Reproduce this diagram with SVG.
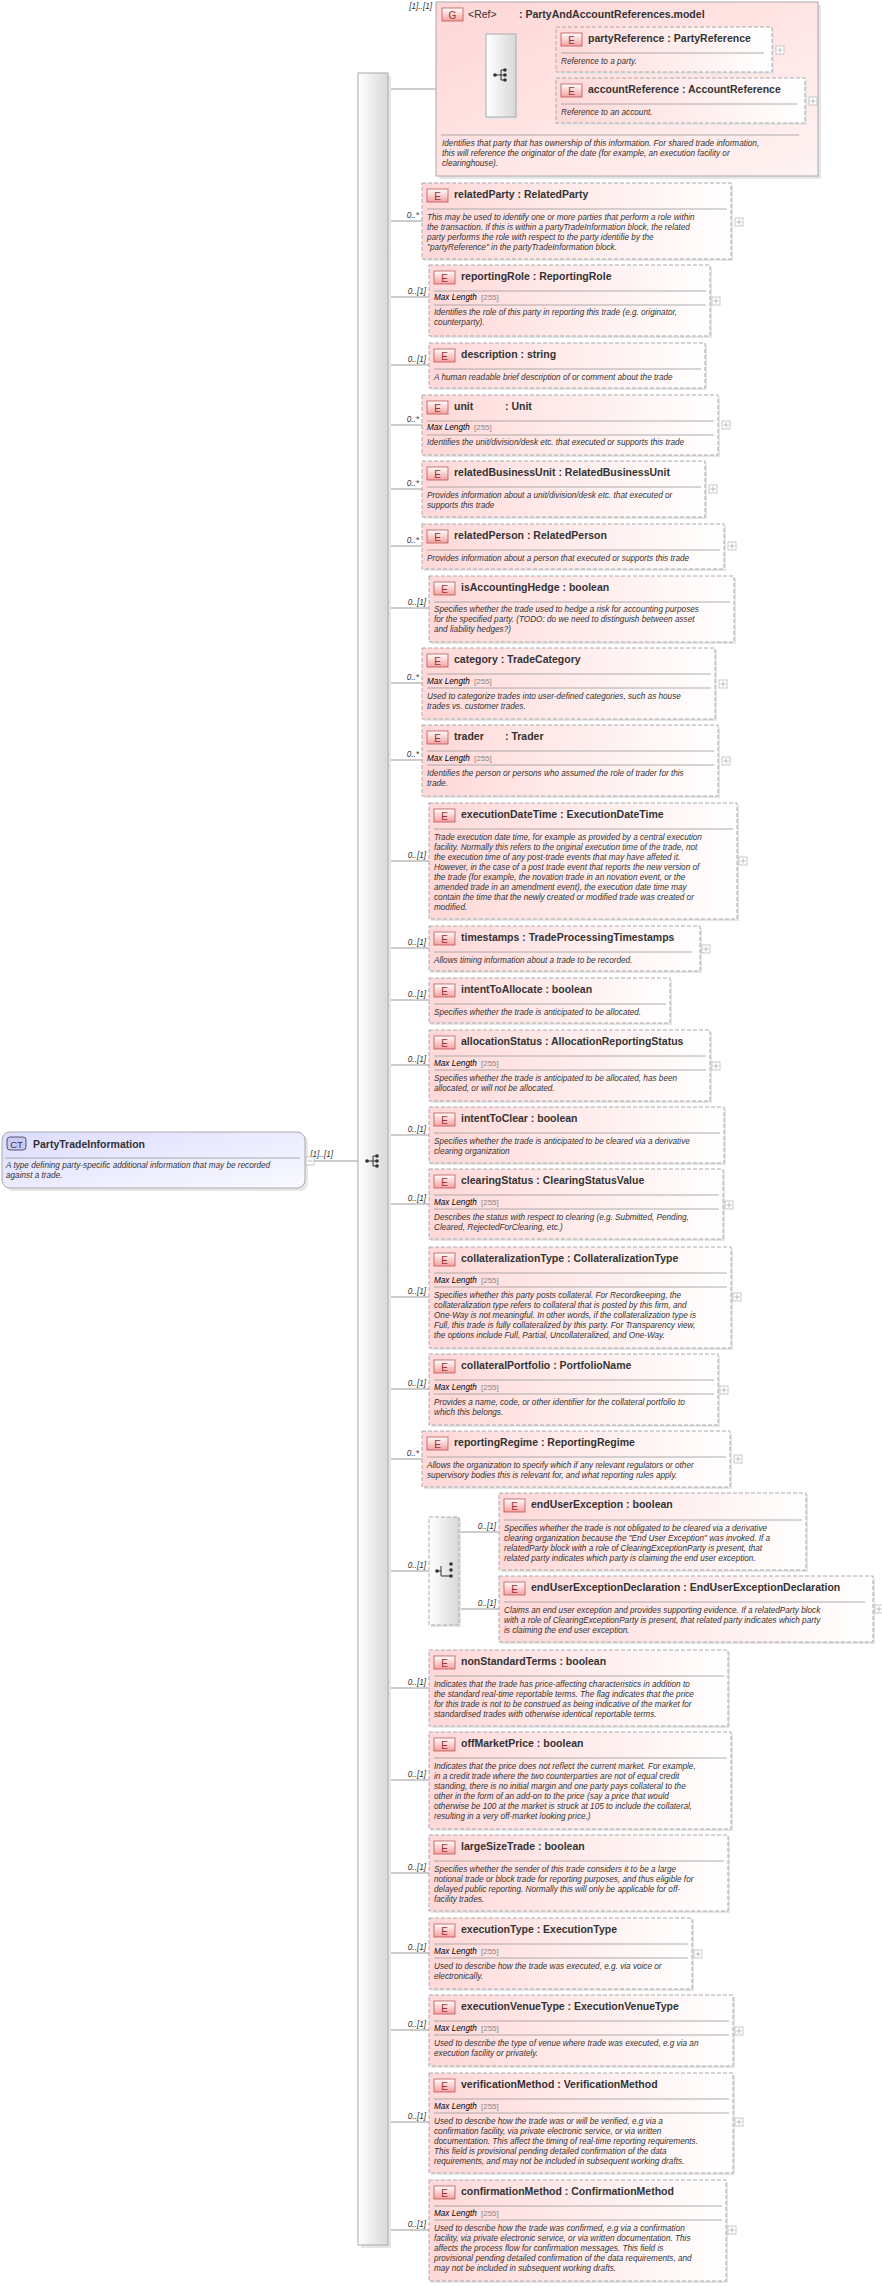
<svg xmlns="http://www.w3.org/2000/svg" width="882" height="2287" viewBox="0 0 882 2287">
<style>
text{font-family:"Liberation Sans",Arial,sans-serif;fill:#333}
.h{font-size:10.5px;font-weight:bold}
.d{font-size:8.2px;font-style:italic}
.m{font-size:8.2px;font-style:italic;fill:#000}
.v{font-size:8px;fill:#888}
.c{font-size:8.2px;font-style:italic;fill:#222}
.b{font-size:10px;fill:#933}
.box{fill:url(#pk);stroke:#aaa;stroke-dasharray:4,2}
.sh{fill:#e6e6e6}
.bd{fill:url(#bg);stroke:#b55;stroke-width:0.8}
.sep{stroke:#999;stroke-width:0.8}
.pl{fill:#fff;stroke:#bbb;stroke-width:0.8}
.cn{stroke:#999;stroke-width:1;fill:none}
</style>
<defs>
<linearGradient id="pk" x1="0" x2="1" y1="0" y2="0"><stop offset="0" stop-color="#ffd8d8"/><stop offset="1" stop-color="#fff"/></linearGradient>
<linearGradient id="gp" x1="0" x2="1" y1="0" y2="1"><stop offset="0" stop-color="#ffd6d6"/><stop offset="1" stop-color="#fff3f3"/></linearGradient>
<linearGradient id="bg" x1="0" x2="0" y1="0" y2="1"><stop offset="0" stop-color="#fff"/><stop offset="1" stop-color="#f5a0a0"/></linearGradient>
<linearGradient id="ct" x1="0" x2="1" y1="0" y2="1"><stop offset="0" stop-color="#dcdcff"/><stop offset="1" stop-color="#fafaff"/></linearGradient>
<linearGradient id="sq" x1="0" x2="1"><stop offset="0" stop-color="#fff"/><stop offset="1" stop-color="#d8d8d8"/></linearGradient>
<g id="seqi"><circle cx="-6" cy="0" r="1.8" fill="#333"/><path d="M-6 0H0M0 -5V5M0 -5H4M0 0H4M0 5H4" stroke="#333" fill="none"/><circle cx="4" cy="-5" r="1.8" fill="#333"/><circle cx="4" cy="0" r="1.8" fill="#333"/><circle cx="4" cy="5" r="1.8" fill="#333"/></g>
<g id="plus"><rect x="0" y="0" width="8" height="8" class="pl"/><path d="M1.5 4H6.5M4 1.5V6.5" stroke="#bbb"/></g>
<g id="badge"><rect x="5" y="6" width="21" height="13" class="bd"/><text x="15.5" y="16.5" text-anchor="middle" class="b">E</text></g>
</defs>

<g id="connectors">
<path class="cn" d="M305 1161H358"/>
<path class="cn" d="M388 89H436M436 75H486M516 49H556M516 100H556"/>
<path class="cn" d="M388 221H422M388 297H429M388 365H429M388 425H422M388 489H422M388 546H422M388 608H429M388 683H422M388 760H422M388 861H429M388 948H429M388 1000H429M388 1065H429M388 1135H429M388 1204H429M388 1297H429M388 1389H429M388 1459H422M388 1571H429M459 1532H499M459 1609H499M388 1688H429M388 1780H429M388 1873H429M388 1953H429M388 2030H429M388 2122H429M388 2230H429"/>
<g class="c" text-anchor="end">
<text x="333" y="1157">[1]..[1]</text>
<text x="432" y="9">[1]..[1]</text>
<text x="483" y="71">[1]..[1]</text>
<text x="553" y="46">0..[1]</text><text x="553" y="97">0..[1]</text>
<text x="419" y="218">0..*</text><text x="426" y="294">0..[1]</text><text x="426" y="362">0..[1]</text><text x="419" y="422">0..*</text><text x="419" y="486">0..*</text><text x="419" y="543">0..*</text><text x="426" y="605">0..[1]</text><text x="419" y="680">0..*</text><text x="419" y="757">0..*</text><text x="426" y="858">0..[1]</text><text x="426" y="945">0..[1]</text><text x="426" y="997">0..[1]</text><text x="426" y="1062">0..[1]</text><text x="426" y="1132">0..[1]</text><text x="426" y="1201">0..[1]</text><text x="426" y="1294">0..[1]</text><text x="426" y="1386">0..[1]</text><text x="419" y="1456">0..*</text><text x="426" y="1568">0..[1]</text><text x="496" y="1529">0..[1]</text><text x="496" y="1606">0..[1]</text><text x="426" y="1685">0..[1]</text><text x="426" y="1777">0..[1]</text><text x="426" y="1870">0..[1]</text><text x="426" y="1950">0..[1]</text><text x="426" y="2027">0..[1]</text><text x="426" y="2119">0..[1]</text><text x="426" y="2227">0..[1]</text>
</g>
</g>

<g id="PartyTradeInformation">
<rect x="5" y="1135" width="303" height="56" rx="8" class="sh"/>
<rect x="2" y="1132" width="303" height="56" rx="8" fill="url(#ct)" stroke="#aaa"/>
<rect x="7" y="1137" width="19" height="13" rx="3" fill="#c8c8f0" stroke="#557"/>
<text x="16.5" y="1147.5" text-anchor="middle" style="font-size:9.5px;fill:#335">CT</text>
<text x="33" y="1148" class="h">PartyTradeInformation</text>
<line x1="5" y1="1158" x2="300" y2="1158" class="sep"/>
<text x="6" y="1168" class="d">A type defining party-specific additional information that may be recorded</text>
<text x="6" y="1178" class="d">against a trade.</text>
<rect x="306" y="1157" width="8" height="8" class="pl"/><path d="M307.5 1161H312.5" stroke="#bbb"/>
</g>

<g id="sequence">
<rect x="361" y="76" width="30" height="2172" class="sh"/>
<rect x="358" y="73" width="30" height="2172" fill="url(#sq)" stroke="#aaa"/>
<use href="#seqi" x="373" y="1161"/>
</g>

<g id="PartyAndAccountReferences">
<rect x="439" y="5" width="382" height="174" class="sh"/>
<rect x="436" y="2" width="382" height="174" fill="url(#gp)" stroke="#aaa"/>
<rect x="442" y="8" width="21" height="13" class="bd"/><text x="452.5" y="18.5" text-anchor="middle" class="b">G</text>
<text x="468" y="18" class="h" style="font-weight:normal">&lt;Ref&gt;</text>
<text x="519" y="18" class="h">: PartyAndAccountReferences.model</text>
<rect x="488" y="36" width="30" height="83" class="sh"/>
<rect x="486" y="34" width="30" height="83" fill="url(#sq)" stroke="#aaa"/>
<use href="#seqi" x="501" y="75"/>
<line x1="441" y1="135" x2="799" y2="135" class="sep"/>
<text x="442" y="146" class="d">Identifies that party that has ownership of this information. For shared trade information,</text>
<text x="442" y="156" class="d">this will reference the originator of the date (for example, an execution facility or</text>
<text x="442" y="166" class="d">clearinghouse).</text>
</g>
<g id="partyReference" transform="translate(556,27)">
<rect x="2" y="2" width="216" height="45" class="sh"/><rect width="216" height="45" class="box"/><use href="#badge"/>
<text x="32" y="15" class="h">partyReference : PartyReference</text>
<line x1="5" y1="26" x2="208" y2="26" class="sep"/>
<text x="5" y="37" class="d">Reference to a party.</text><use href="#plus" x="220" y="19"/>
</g>
<g id="accountReference" transform="translate(556,78)">
<rect x="2" y="2" width="249" height="45" class="sh"/><rect width="249" height="45" class="box"/><use href="#badge"/>
<text x="32" y="15" class="h">accountReference : AccountReference</text>
<line x1="5" y1="26" x2="241" y2="26" class="sep"/>
<text x="5" y="37" class="d">Reference to an account.</text><use href="#plus" x="253" y="19"/>
</g>

<g id="relatedParty" transform="translate(422,183)">
<rect x="2" y="2" width="309" height="76" class="sh"/><rect width="309" height="76" class="box"/><use href="#badge"/>
<text x="32" y="15" class="h">relatedParty : RelatedParty</text>
<line x1="5" y1="26" x2="305" y2="26" class="sep"/>
<text x="5" y="37" class="d">This may be used to identify one or more parties that perform a role within</text>
<text x="5" y="47" class="d">the transaction. If this is within a partyTradeInformation block, the related</text>
<text x="5" y="57" class="d">party performs the role with respect to the party identifie by the</text>
<text x="5" y="67" class="d">"partyReference" in the partyTradeInformation block.</text>
<use href="#plus" x="313" y="35"/>
</g>

<g id="reportingRole" transform="translate(429,265)">
<rect x="2" y="2" width="281" height="71" class="sh"/><rect width="281" height="71" class="box"/><use href="#badge"/>
<text x="32" y="15" class="h">reportingRole : ReportingRole</text>
<line x1="5" y1="26" x2="277" y2="26" class="sep"/>
<text x="5" y="35" class="m">Max Length</text><text x="52" y="35" class="v">[255]</text>
<line x1="5" y1="40" x2="277" y2="40" class="sep"/>
<text x="5" y="50" class="d">Identifies the role of this party in reporting this trade (e.g. originator,</text>
<text x="5" y="60" class="d">counterparty).</text>
<use href="#plus" x="283" y="32"/>
</g>

<g id="description" transform="translate(429,343)">
<rect x="2" y="2" width="276" height="45" class="sh"/><rect width="276" height="45" class="box"/><use href="#badge"/>
<text x="32" y="15" class="h">description : string</text>
<line x1="5" y1="26" x2="272" y2="26" class="sep"/>
<text x="5" y="37" class="d">A human readable brief description of or comment about the trade</text>
</g>

<g id="unit" transform="translate(422,395)">
<rect x="2" y="2" width="296" height="60" class="sh"/><rect width="296" height="60" class="box"/><use href="#badge"/>
<text x="32" y="15" class="h">unit</text><text x="83" y="15" class="h">: Unit</text>
<line x1="5" y1="26" x2="292" y2="26" class="sep"/>
<text x="5" y="35" class="m">Max Length</text><text x="52" y="35" class="v">[255]</text>
<line x1="5" y1="40" x2="292" y2="40" class="sep"/>
<text x="5" y="50" class="d">Identifies the unit/division/desk etc. that executed or supports this trade</text>
<use href="#plus" x="300" y="26"/>
</g>

<g id="relatedBusinessUnit" transform="translate(422,461)">
<rect x="2" y="2" width="283" height="56" class="sh"/><rect width="283" height="56" class="box"/><use href="#badge"/>
<text x="32" y="15" class="h">relatedBusinessUnit : RelatedBusinessUnit</text>
<line x1="5" y1="26" x2="279" y2="26" class="sep"/>
<text x="5" y="37" class="d">Provides information about a unit/division/desk etc. that executed or</text>
<text x="5" y="47" class="d">supports this trade</text>
<use href="#plus" x="287" y="24"/>
</g>

<g id="relatedPerson" transform="translate(422,524)">
<rect x="2" y="2" width="302" height="45" class="sh"/><rect width="302" height="45" class="box"/><use href="#badge"/>
<text x="32" y="15" class="h">relatedPerson : RelatedPerson</text>
<line x1="5" y1="26" x2="298" y2="26" class="sep"/>
<text x="5" y="37" class="d">Provides information about a person that executed or supports this trade</text>
<use href="#plus" x="306" y="18"/>
</g>

<g id="isAccountingHedge" transform="translate(429,576)">
<rect x="2" y="2" width="305" height="66" class="sh"/><rect width="305" height="66" class="box"/><use href="#badge"/>
<text x="32" y="15" class="h">isAccountingHedge : boolean</text>
<line x1="5" y1="26" x2="301" y2="26" class="sep"/>
<text x="5" y="36" class="d">Specifies whether the trade used to hedge a risk for accounting purposes</text>
<text x="5" y="46" class="d">for the specified party. (TODO: do we need to distinguish between asset</text>
<text x="5" y="56" class="d">and liability hedges?)</text>
</g>

<g id="category" transform="translate(422,648)">
<rect x="2" y="2" width="293" height="71" class="sh"/><rect width="293" height="71" class="box"/><use href="#badge"/>
<text x="32" y="15" class="h">category : TradeCategory</text>
<line x1="5" y1="26" x2="289" y2="26" class="sep"/>
<text x="5" y="36" class="m">Max Length</text><text x="52" y="36" class="v">[255]</text>
<line x1="5" y1="40" x2="289" y2="40" class="sep"/>
<text x="5" y="51" class="d">Used to categorize trades into user-defined categories, such as house</text>
<text x="5" y="61" class="d">trades vs. customer trades.</text>
<use href="#plus" x="297" y="32"/>
</g>

<g id="trader" transform="translate(422,725)">
<rect x="2" y="2" width="296" height="71" class="sh"/><rect width="296" height="71" class="box"/><use href="#badge"/>
<text x="32" y="15" class="h">trader</text><text x="83" y="15" class="h">: Trader</text>
<line x1="5" y1="26" x2="292" y2="26" class="sep"/>
<text x="5" y="36" class="m">Max Length</text><text x="52" y="36" class="v">[255]</text>
<line x1="5" y1="40" x2="292" y2="40" class="sep"/>
<text x="5" y="51" class="d">Identifies the person or persons who assumed the role of trader for this</text>
<text x="5" y="61" class="d">trade.</text>
<use href="#plus" x="300" y="32"/>
</g>

<g id="executionDateTime" transform="translate(429,803)">
<rect x="2" y="2" width="308" height="116" class="sh"/><rect width="308" height="116" class="box"/><use href="#badge"/>
<text x="32" y="15" class="h">executionDateTime : ExecutionDateTime</text>
<line x1="5" y1="26" x2="304" y2="26" class="sep"/>
<text x="5" y="37" class="d">Trade execution date time, for example as provided by a central execution</text>
<text x="5" y="47" class="d">facility. Normally this refers to the original execution time of the trade, not</text>
<text x="5" y="57" class="d">the execution time of any post-trade events that may have affeted it.</text>
<text x="5" y="67" class="d">However, in the case of a post trade event that reports the new version of</text>
<text x="5" y="77" class="d">the trade (for example, the novation trade in an novation event, or the</text>
<text x="5" y="87" class="d">amended trade in an amendment event), the execution date time may</text>
<text x="5" y="97" class="d">contain the time that the newly created or modified trade was created or</text>
<text x="5" y="107" class="d">modified.</text>
<use href="#plus" x="310" y="54"/>
</g>

<g id="timestamps" transform="translate(429,926)">
<rect x="2" y="2" width="271" height="45" class="sh"/><rect width="271" height="45" class="box"/><use href="#badge"/>
<text x="32" y="15" class="h">timestamps : TradeProcessingTimestamps</text>
<line x1="5" y1="26" x2="263" y2="26" class="sep"/>
<text x="5" y="37" class="d">Allows timing information about a trade to be recorded.</text>
<use href="#plus" x="273" y="19"/>
</g>

<g id="intentToAllocate" transform="translate(429,978)">
<rect x="2" y="2" width="241" height="45" class="sh"/><rect width="241" height="45" class="box"/><use href="#badge"/>
<text x="32" y="15" class="h">intentToAllocate : boolean</text>
<line x1="5" y1="26" x2="237" y2="26" class="sep"/>
<text x="5" y="37" class="d">Specifies whether the trade is anticipated to be allocated.</text>
</g>

<g id="allocationStatus" transform="translate(429,1030)">
<rect x="2" y="2" width="281" height="71" class="sh"/><rect width="281" height="71" class="box"/><use href="#badge"/>
<text x="32" y="15" class="h">allocationStatus : AllocationReportingStatus</text>
<line x1="5" y1="26" x2="277" y2="26" class="sep"/>
<text x="5" y="36" class="m">Max Length</text><text x="52" y="36" class="v">[255]</text>
<line x1="5" y1="40" x2="277" y2="40" class="sep"/>
<text x="5" y="51" class="d">Specifies whether the trade is anticipated to be allocated, has been</text>
<text x="5" y="61" class="d">allocated, or will not be allocated.</text>
<use href="#plus" x="283" y="32"/>
</g>

<g id="intentToClear" transform="translate(429,1107)">
<rect x="2" y="2" width="295" height="56" class="sh"/><rect width="295" height="56" class="box"/><use href="#badge"/>
<text x="32" y="15" class="h">intentToClear : boolean</text>
<line x1="5" y1="26" x2="291" y2="26" class="sep"/>
<text x="5" y="37" class="d">Specifies whether the trade is anticipated to be cleared via a derivative</text>
<text x="5" y="47" class="d">clearing organization</text>
</g>

<g id="clearingStatus" transform="translate(429,1169)">
<rect x="2" y="2" width="294" height="70" class="sh"/><rect width="294" height="70" class="box"/><use href="#badge"/>
<text x="32" y="15" class="h">clearingStatus : ClearingStatusValue</text>
<line x1="5" y1="26" x2="290" y2="26" class="sep"/>
<text x="5" y="36" class="m">Max Length</text><text x="52" y="36" class="v">[255]</text>
<line x1="5" y1="40" x2="290" y2="40" class="sep"/>
<text x="5" y="51" class="d">Describes the status with respect to clearing (e.g. Submitted, Pending,</text>
<text x="5" y="61" class="d">Cleared, RejectedForClearing, etc.)</text>
<use href="#plus" x="296" y="32"/>
</g>

<g id="collateralizationType" transform="translate(429,1247)">
<rect x="2" y="2" width="302" height="101" class="sh"/><rect width="302" height="101" class="box"/><use href="#badge"/>
<text x="32" y="15" class="h">collateralizationType : CollateralizationType</text>
<line x1="5" y1="26" x2="298" y2="26" class="sep"/>
<text x="5" y="36" class="m">Max Length</text><text x="52" y="36" class="v">[255]</text>
<line x1="5" y1="40" x2="298" y2="40" class="sep"/>
<text x="5" y="51" class="d">Specifies whether this party posts collateral. For Recordkeeping, the</text>
<text x="5" y="61" class="d">collateralization type refers to collateral that is posted by this firm, and</text>
<text x="5" y="71" class="d">One-Way is not meaningful. In other words, if the collateralization type is</text>
<text x="5" y="81" class="d">Full, this trade is fully collateralized by this party. For Transparency view,</text>
<text x="5" y="91" class="d">the options include Full, Partial, Uncollateralized, and One-Way.</text>
<use href="#plus" x="304" y="46"/>
</g>

<g id="collateralPortfolio" transform="translate(429,1354)">
<rect x="2" y="2" width="289" height="71" class="sh"/><rect width="289" height="71" class="box"/><use href="#badge"/>
<text x="32" y="15" class="h">collateralPortfolio : PortfolioName</text>
<line x1="5" y1="26" x2="285" y2="26" class="sep"/>
<text x="5" y="36" class="m">Max Length</text><text x="52" y="36" class="v">[255]</text>
<line x1="5" y1="40" x2="285" y2="40" class="sep"/>
<text x="5" y="51" class="d">Provides a name, code, or other identifier for the collateral portfolio to</text>
<text x="5" y="61" class="d">which this belongs.</text>
<use href="#plus" x="291" y="32"/>
</g>

<g id="reportingRegime" transform="translate(422,1431)">
<rect x="2" y="2" width="308" height="56" class="sh"/><rect width="308" height="56" class="box"/><use href="#badge"/>
<text x="32" y="15" class="h">reportingRegime : ReportingRegime</text>
<line x1="5" y1="26" x2="304" y2="26" class="sep"/>
<text x="5" y="37" class="d">Allows the organization to specify which if any relevant regulators or other</text>
<text x="5" y="47" class="d">supervisory bodies this is relevant for, and what reporting rules apply.</text>
<use href="#plus" x="312" y="24"/>
</g>

<g id="choice">
<rect x="431" y="1519" width="30" height="108" class="sh"/>
<rect x="429" y="1517" width="30" height="108" fill="url(#sq)" stroke="#aaa" stroke-dasharray="4,2"/>
<circle cx="437" cy="1571" r="1.8" fill="#333"/>
<path d="M437 1571H441M441 1566V1576M441 1576H451" stroke="#333" fill="none"/>
<circle cx="451" cy="1564" r="1.8" fill="#333"/><circle cx="451" cy="1570" r="1.8" fill="#333"/><circle cx="451" cy="1576" r="1.8" fill="#333"/>
</g>

<g id="endUserException" transform="translate(499,1493)">
<rect x="2" y="2" width="307" height="77" class="sh"/><rect width="307" height="77" class="box"/><use href="#badge"/>
<text x="32" y="15" class="h">endUserException : boolean</text>
<line x1="5" y1="27" x2="303" y2="27" class="sep"/>
<text x="5" y="38" class="d">Specifies whether the trade is not obligated to be cleared via a derivative</text>
<text x="5" y="48" class="d">clearing organization because the "End User Exception" was invoked. If a</text>
<text x="5" y="58" class="d">relatedParty block with a role of ClearingExceptionParty is present, that</text>
<text x="5" y="68" class="d">related party indicates which party is claiming the end user exception.</text>
</g>

<g id="endUserExceptionDeclaration" transform="translate(499,1576)">
<rect x="2" y="2" width="374" height="66" class="sh"/><rect width="374" height="66" class="box"/><use href="#badge"/>
<text x="32" y="15" class="h">endUserExceptionDeclaration : EndUserExceptionDeclaration</text>
<line x1="5" y1="26" x2="366" y2="26" class="sep"/>
<text x="5" y="37" class="d">Claims an end user exception and provides supporting evidence. If a relatedParty block</text>
<text x="5" y="47" class="d">with a role of ClearingExceptionParty is present, that related party indicates which party</text>
<text x="5" y="57" class="d">is claiming the end user exception.</text>
<use href="#plus" x="376" y="29"/>
</g>

<g id="nonStandardTerms" transform="translate(429,1650)">
<rect x="2" y="2" width="299" height="76" class="sh"/><rect width="299" height="76" class="box"/><use href="#badge"/>
<text x="32" y="15" class="h">nonStandardTerms : boolean</text>
<line x1="5" y1="26" x2="295" y2="26" class="sep"/>
<text x="5" y="37" class="d">Indicates that the trade has price-affecting characteristics in addition to</text>
<text x="5" y="47" class="d">the standard real-time reportable terms. The flag indicates that the price</text>
<text x="5" y="57" class="d">for this trade is not to be construed as being indicative of the market for</text>
<text x="5" y="67" class="d">standardised trades with otherwise identical reportable terms.</text>
</g>

<g id="offMarketPrice" transform="translate(429,1732)">
<rect x="2" y="2" width="302" height="97" class="sh"/><rect width="302" height="97" class="box"/><use href="#badge"/>
<text x="32" y="15" class="h">offMarketPrice : boolean</text>
<line x1="5" y1="26" x2="298" y2="26" class="sep"/>
<text x="5" y="37" class="d">Indicates that the price does not reflect the current market. For example,</text>
<text x="5" y="47" class="d">in a credit trade where the two counterparties are not of equal credit</text>
<text x="5" y="57" class="d">standing, there is no initial margin and one party pays collateral to the</text>
<text x="5" y="67" class="d">other in the form of an add-on to the price (say a price that would</text>
<text x="5" y="77" class="d">otherwise be 100 at the market is struck at 105 to include the collateral,</text>
<text x="5" y="87" class="d">resulting in a very off-market looking price.)</text>
</g>

<g id="largeSizeTrade" transform="translate(429,1835)">
<rect x="2" y="2" width="299" height="76" class="sh"/><rect width="299" height="76" class="box"/><use href="#badge"/>
<text x="32" y="15" class="h">largeSizeTrade : boolean</text>
<line x1="5" y1="26" x2="295" y2="26" class="sep"/>
<text x="5" y="37" class="d">Specifies whether the sender of this trade considers it to be a large</text>
<text x="5" y="47" class="d">notional trade or block trade for reporting purposes, and thus eligible for</text>
<text x="5" y="57" class="d">delayed public reporting. Normally this will only be applicable for off-</text>
<text x="5" y="67" class="d">facility trades.</text>
</g>

<g id="executionType" transform="translate(429,1918)">
<rect x="2" y="2" width="263" height="71" class="sh"/><rect width="263" height="71" class="box"/><use href="#badge"/>
<text x="32" y="15" class="h">executionType : ExecutionType</text>
<line x1="5" y1="26" x2="259" y2="26" class="sep"/>
<text x="5" y="36" class="m">Max Length</text><text x="52" y="36" class="v">[255]</text>
<line x1="5" y1="40" x2="259" y2="40" class="sep"/>
<text x="5" y="51" class="d">Used to describe how the trade was executed, e.g. via voice or</text>
<text x="5" y="61" class="d">electronically.</text>
<use href="#plus" x="265" y="32"/>
</g>

<g id="executionVenueType" transform="translate(429,1995)">
<rect x="2" y="2" width="304" height="71" class="sh"/><rect width="304" height="71" class="box"/><use href="#badge"/>
<text x="32" y="15" class="h">executionVenueType : ExecutionVenueType</text>
<line x1="5" y1="26" x2="300" y2="26" class="sep"/>
<text x="5" y="36" class="m">Max Length</text><text x="52" y="36" class="v">[255]</text>
<line x1="5" y1="40" x2="300" y2="40" class="sep"/>
<text x="5" y="51" class="d">Used to describe the type of venue where trade was executed, e.g via an</text>
<text x="5" y="61" class="d">execution facility or privately.</text>
<use href="#plus" x="306" y="32"/>
</g>

<g id="verificationMethod" transform="translate(429,2073)">
<rect x="2" y="2" width="304" height="100" class="sh"/><rect width="304" height="100" class="box"/><use href="#badge"/>
<text x="32" y="15" class="h">verificationMethod : VerificationMethod</text>
<line x1="5" y1="26" x2="300" y2="26" class="sep"/>
<text x="5" y="36" class="m">Max Length</text><text x="52" y="36" class="v">[255]</text>
<line x1="5" y1="40" x2="300" y2="40" class="sep"/>
<text x="5" y="51" class="d">Used to describe how the trade was or will be verified, e.g via a</text>
<text x="5" y="61" class="d">confirmation facility, via private electronic service, or via written</text>
<text x="5" y="71" class="d">documentation. This affect the timing of real-time reporting requirements.</text>
<text x="5" y="81" class="d">This field is provisional pending detailed confirmation of the data</text>
<text x="5" y="91" class="d">requirements, and may not be included in subsequent working drafts.</text>
<use href="#plus" x="306" y="45"/>
</g>

<g id="confirmationMethod" transform="translate(429,2180)">
<rect x="2" y="2" width="297" height="101" class="sh"/><rect width="297" height="101" class="box"/><use href="#badge"/>
<text x="32" y="15" class="h">confirmationMethod : ConfirmationMethod</text>
<line x1="5" y1="26" x2="293" y2="26" class="sep"/>
<text x="5" y="36" class="m">Max Length</text><text x="52" y="36" class="v">[255]</text>
<line x1="5" y1="40" x2="293" y2="40" class="sep"/>
<text x="5" y="51" class="d">Used to describe how the trade was confirmed, e.g via a confirmation</text>
<text x="5" y="61" class="d">facility, via private electronic service, or via written documentation. This</text>
<text x="5" y="71" class="d">affects the process flow for confirmation messages. This field is</text>
<text x="5" y="81" class="d">provisional pending detailed confirmation of the data requirements, and</text>
<text x="5" y="91" class="d">may not be included in subsequent working drafts.</text>
<use href="#plus" x="299" y="46"/>
</g>
</svg>
